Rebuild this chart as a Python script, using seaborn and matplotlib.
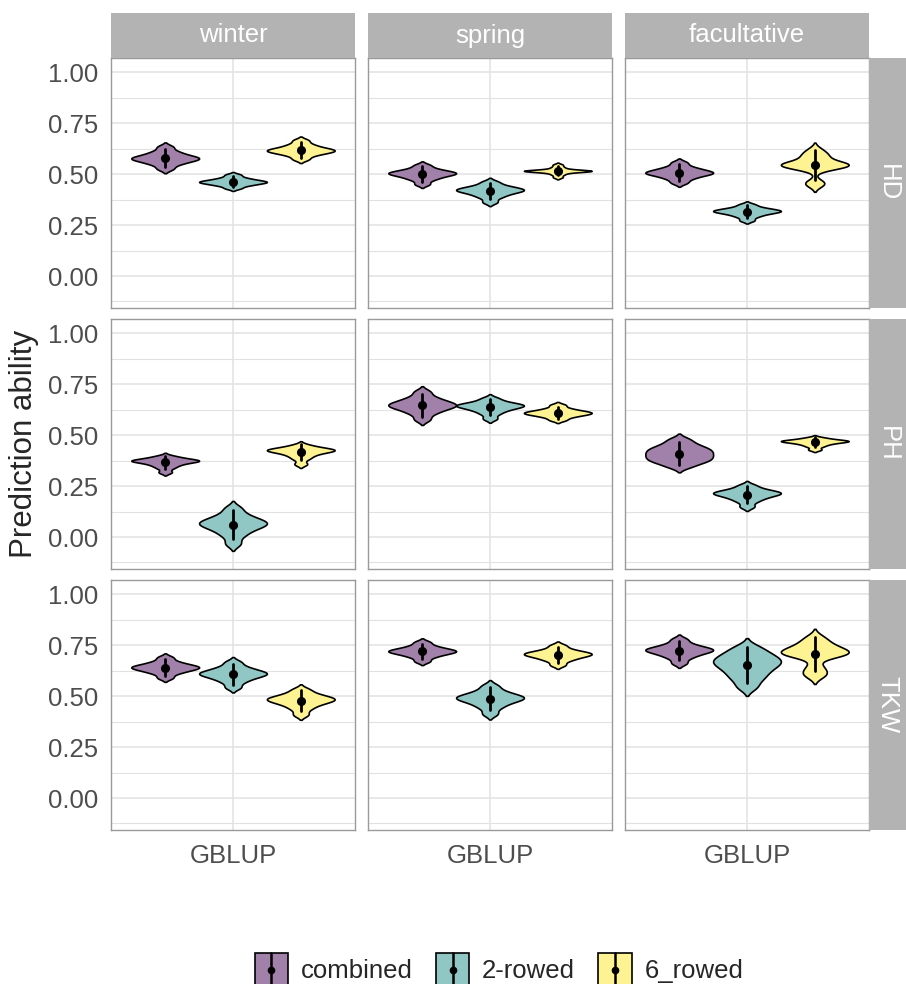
import matplotlib.pyplot as plt
import numpy as np
import pandas as pd
import seaborn as sns
from matplotlib.patches import Patch, Rectangle
from matplotlib.lines import Line2D
from matplotlib.legend_handler import HandlerBase

seasons = ['winter', 'spring', 'facultative']
traits = ['HD', 'PH', 'TKW']
groups = ['combined', '2-rowed', '6_rowed']
colors = ['#A180A9', '#90C7C5', '#FEF392']

# prediction ability of the CV replicates, [winter, spring, facultative]
HD_combined = [
    [.526, .546, .557, .565, .571, .576, .580, .585, .592, .601, .613, .634],
    [.451, .471, .482, .490, .496, .501, .505, .508, .513, .519, .528, .544],
    [.458, .476, .487, .495, .501, .505, .509, .514, .520, .527, .538, .557],
]
HD_2rowed = [
    [.431, .443, .449, .454, .458, .461, .463, .467, .471, .476, .484, .497],
    [.363, .385, .397, .406, .413, .418, .422, .426, .431, .437, .446, .462],
    [.273, .290, .300, .307, .312, .316, .319, .322, .326, .331, .338, .351],
]
HD_6rowed = [
    [.573, .590, .600, .606, .611, .615, .619, .623, .629, .637, .648, .666],
    [.485, .497, .505, .511, .514, .516, .516, .516, .516, .518, .521, .527,
     .535, .546],
    [.448, .462, .525, .535, .540, .544, .547, .550, .556, .568, .588, .598,
     .620],
]
PH_combined = [
    [.318, .338, .350, .358, .365, .370, .373, .375, .378, .382, .388, .397],
    [.577, .604, .619, .630, .638, .644, .650, .656, .664, .674, .688, .713],
    [.345, .362, .372, .380, .388, .396, .404, .412, .420, .428, .436, .446,
     .460, .480],
]
PH_2rowed = [
    [-.033, .004, .026, .041, .052, .061, .068, .075, .084, .096, .113, .142],
    [.581, .604, .618, .627, .634, .640, .644, .647, .652, .657, .666, .681],
    [.149, .173, .187, .196, .204, .210, .214, .218, .223, .229, .238, .254],
]
PH_6rowed = [
    [.358, .383, .397, .407, .415, .420, .424, .427, .430, .434, .440, .451],
    [.574, .587, .595, .600, .604, .608, .611, .614, .619, .624, .633, .648],
    [.429, .444, .453, .459, .464, .467, .470, .471, .474, .476, .481, .488],
]
TKW_combined = [
    [.590, .610, .621, .628, .634, .639, .643, .647, .653, .660, .671, .690],
    [.671, .690, .701, .708, .714, .718, .722, .726, .731, .738, .748, .765],
    [.662, .686, .700, .709, .717, .723, .727, .732, .738, .746, .758, .779],
]
TKW_2rowed = [
    [.543, .568, .583, .593, .601, .607, .612, .617, .624, .633, .645, .667],
    [.413, .442, .459, .471, .480, .487, .492, .498, .505, .514, .528, .551],
    [.544, .579, .602, .622, .639, .653, .665, .675, .687, .701, .718, .742],
]
TKW_6rowed = [
    [.409, .436, .453, .464, .472, .479, .484, .489, .495, .503, .514, .533],
    [.653, .673, .684, .692, .698, .703, .707, .711, .716, .722, .732, .749],
    [.600, .618, .645, .693, .702, .708, .713, .720, .728, .738, .750, .768,
     .790],
]

samples = {
    'HD': [HD_combined, HD_2rowed, HD_6rowed],
    'PH': [PH_combined, PH_2rowed, PH_6rowed],
    'TKW': [TKW_combined, TKW_2rowed, TKW_6rowed],
}

rows = []
for trait, per_group in samples.items():
    for group, per_season in zip(groups, per_group):
        for season, vals in zip(seasons, per_season):
            for v in vals:
                rows.append((trait, season, group, 'GBLUP', v))
df = pd.DataFrame(rows, columns=['trait', 'season', 'group', 'method', 'value'])

sns.set_style('white')
plt.rcParams['font.family'] = ['Liberation Sans', 'DejaVu Sans']

W, H = 906, 984
col_x = [111, 368, 625]
row_y = [58, 319, 580]
pw, ph = 244, 250
strip_col = '#B3B3B3'
fs = 18.5


def frac(x, y, w, h):
    return [x / W, 1 - (y + h) / H, w / W, h / H]


class ViolinKey(HandlerBase):
    # filled box with the mean +/- sd bar, like the ggplot key
    def create_artists(self, legend, orig_handle, xdescent, ydescent,
                       width, height, fontsize, trans):
        x0, y0 = -xdescent, -ydescent
        box = Rectangle((x0, y0), width, height, transform=trans,
                        facecolor=orig_handle.get_facecolor(),
                        edgecolor='black', linewidth=1.2)
        xc = x0 + width / 2
        bar = Line2D([xc, xc], [y0, y0 + height], color='black',
                     linewidth=1.8, transform=trans)
        dot = Line2D([xc], [y0 + height / 2], marker='o', markersize=4.5,
                     color='black', transform=trans)
        return [box, bar, dot]


fig = plt.figure(figsize=(W / 100, H / 100), dpi=100)
pal = dict(zip(groups, colors))
black = {g: 'black' for g in groups}

for i, trait in enumerate(traits):
    for j, season in enumerate(seasons):
        ax = fig.add_axes(frac(col_x[j], row_y[i], pw, ph))
        sub = df[(df.trait == trait) & (df.season == season)]
        sns.violinplot(data=sub, x='method', y='value', hue='group',
                       hue_order=groups, palette=pal, width=1.0, cut=2,
                       inner=None, density_norm='width', bw_adjust=0.6,
                       linewidth=1.2, linecolor='black', saturation=1,
                       legend=False, ax=ax)
        sns.pointplot(data=sub, x='method', y='value', hue='group',
                      hue_order=groups, palette=black, dodge=0.667,
                      errorbar=('sd', 1.5), linestyle='none', markersize=4.5,
                      err_kws={'linewidth': 2}, legend=False, ax=ax)
        ax.set_xlim(-0.6, 0.6)
        ax.set_ylim(-0.157, 1.07)
        ax.set_xlabel('')
        ax.set_ylabel('')
        ax.set_yticks([0, 0.25, 0.5, 0.75, 1.0])
        ax.set_yticks([-0.125, 0.125, 0.375, 0.625, 0.875], minor=True)
        ax.set_xticks([0])
        ax.grid(True, which='major', color='#E2E2E2', linewidth=1.1)
        ax.grid(True, which='minor', axis='y', color='#E2E2E2', linewidth=0.8)
        ax.set_axisbelow(True)
        for sp in ax.spines.values():
            sp.set_color('#9A9A9A')
            sp.set_linewidth(1.0)
        ax.tick_params(which='minor', length=0)
        if j == 0:
            ax.set_yticklabels(['0.00', '0.25', '0.50', '0.75', '1.00'])
            ax.tick_params(axis='y', which='major', length=6, color='#333333',
                           labelsize=fs, labelcolor='#4D4D4D', pad=3)
        else:
            ax.tick_params(axis='y', which='major', length=0, labelleft=False)
        if i == 2:
            ax.set_xticklabels(['GBLUP'])
            ax.tick_params(axis='x', length=5, color='#333333', labelsize=fs,
                           labelcolor='#4D4D4D', pad=5)
        else:
            ax.tick_params(axis='x', length=0, labelbottom=False)

# top strips
for j, season in enumerate(seasons):
    x0, y0, w, h = frac(col_x[j], 13, pw, 45)
    fig.add_artist(Rectangle((x0, y0), w, h, transform=fig.transFigure,
                             facecolor=strip_col, edgecolor='none'))
    fig.text(x0 + w / 2, y0 + h / 2, season, color='white', fontsize=fs,
             ha='center', va='center')

# right strips
for i, trait in enumerate(traits):
    x0, y0, w, h = frac(869, row_y[i], 37, ph)
    fig.add_artist(Rectangle((x0, y0), w, h, transform=fig.transFigure,
                             facecolor=strip_col, edgecolor='none'))
    fig.text(x0 + w / 2, y0 + h / 2, trait, color='white', fontsize=fs,
             ha='center', va='center', rotation=-90)

fig.text(24 / W, 1 - 444 / H, 'Prediction ability', fontsize=22.5,
         rotation=90, ha='center', va='center')

handles = [Patch(facecolor=c) for c in colors]
fig.legend(handles, groups, handler_map={Patch: ViolinKey()},
           loc='center', bbox_to_anchor=(499 / W, 14 / H), ncol=3,
           frameon=False, fontsize=fs, handlelength=1.3, handleheight=1.6,
           columnspacing=0.9, handletextpad=0.5)

fig.savefig('out.png', dpi=100)
